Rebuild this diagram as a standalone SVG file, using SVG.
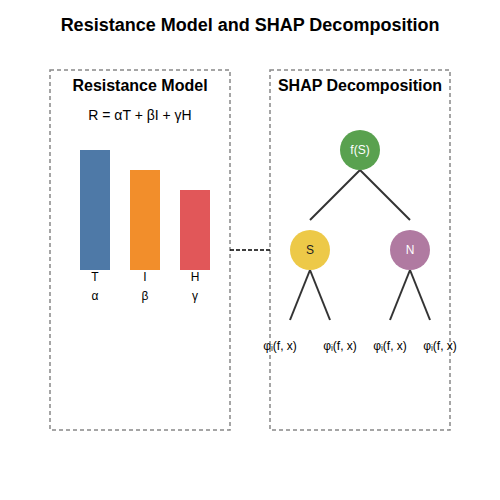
<svg xmlns="http://www.w3.org/2000/svg" width="500" height="500" viewBox="0 0 500 500">
<style>
text{font-family:"Liberation Sans","DejaVu Sans",Arial,sans-serif;text-anchor:middle}
.title{font-size:18px;font-weight:bold}
.h{font-size:16px;font-weight:bold}
.f{font-size:14px}
.l{font-size:12px}
.panel{fill:none;stroke:#888;stroke-width:1.5;stroke-dasharray:4,3}
.edge{stroke:#333;stroke-width:2;fill:none}
</style>
<rect width="500" height="500" fill="#fff"/>
<text class="title" x="250" y="31">Resistance Model and SHAP Decomposition</text>
<g id="resistance-model">
<rect class="panel" x="50" y="70" width="180" height="360"/>
<text class="h" x="140" y="91">Resistance Model</text>
<text class="f" x="140" y="120">R = αT + βI + γH</text>
<g id="bar-T"><rect x="80" y="150" width="30" height="120" fill="#4e79a7"/><text class="l" x="95" y="281">T</text><text class="l" x="95" y="300">α</text></g>
<g id="bar-I"><rect x="130" y="170" width="30" height="100" fill="#f28e2b"/><text class="l" x="145" y="281">I</text><text class="l" x="145" y="300">β</text></g>
<g id="bar-H"><rect x="180" y="190" width="30" height="80" fill="#e15759"/><text class="l" x="195" y="281">H</text><text class="l" x="195" y="300">γ</text></g>
</g>
<g id="shap">
<rect class="panel" x="270" y="70" width="180" height="360"/>
<text class="h" x="360" y="91">SHAP Decomposition</text>
</g>
<g id="connectors">
<line x1="230" y1="250" x2="270" y2="250" stroke="#000" stroke-width="1.5" stroke-dasharray="4,2"/>
<line class="edge" x1="360" y1="170" x2="310" y2="220"/>
<line class="edge" x1="360" y1="170" x2="410" y2="220"/>
<line class="edge" x1="310" y1="270" x2="290" y2="320"/>
<line class="edge" x1="310" y1="270" x2="330" y2="320"/>
<line class="edge" x1="410" y1="270" x2="390" y2="320"/>
<line class="edge" x1="410" y1="270" x2="430" y2="320"/>
</g>
<g id="node-fS"><circle cx="360" cy="150" r="20" fill="#59a14f"/><text class="l" x="360" y="154" fill="#fff">f(S)</text></g>
<g id="node-S"><circle cx="310" cy="250" r="20" fill="#edc948"/><text class="l" x="310" y="254" fill="#222">S</text></g>
<g id="node-N"><circle cx="410" cy="250" r="20" fill="#b07aa1"/><text class="l" x="410" y="254" fill="#fff">N</text></g>
<g id="leaf-1"><text class="l" x="280" y="350">φᵢ(f, x)</text></g>
<g id="leaf-2"><text class="l" x="340" y="350">φᵢ(f, x)</text></g>
<g id="leaf-3"><text class="l" x="390" y="350">φᵢ(f, x)</text></g>
<g id="leaf-4"><text class="l" x="440" y="350">φᵢ(f, x)</text></g>
</svg>
